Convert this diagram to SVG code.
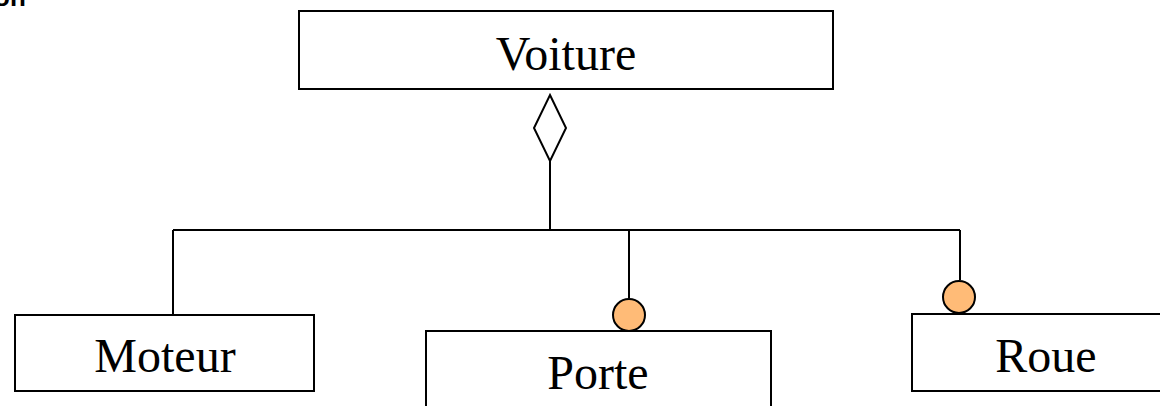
<svg xmlns="http://www.w3.org/2000/svg" width="1160" height="406" viewBox="0 0 1160 406">
  <style>
    .box { fill: #ffffff; stroke: #000000; stroke-width: 2; }
    .label { font-family: "Liberation Serif", "Times New Roman", serif; font-size: 48px; fill: #000000; text-anchor: middle; }
    .wire { fill: none; stroke: #000000; stroke-width: 2; }
    .dot { fill: #FFBB77; stroke: #000000; stroke-width: 2; }
    .diamond { fill: #ffffff; stroke: #000000; stroke-width: 2; }
  </style>

  <!-- title fragment at the top edge -->
  <text x="-6" y="6" font-family="Liberation Sans, Arial, sans-serif" font-size="26" font-weight="bold" fill="#000000">on</text>

  <!-- connectors -->
  <g id="connectors">
    <polygon class="diamond" points="550,95 566,128 550,161 534,128"/>
    <path class="wire" d="M550,161 V230"/>
    <path class="wire" d="M173,230 H960"/>
    <path class="wire" d="M173,230 V315"/>
    <path class="wire" d="M629,230 V298"/>
    <path class="wire" d="M960,230 V280"/>
    <circle class="dot" cx="629" cy="315" r="16"/>
    <circle class="dot" cx="959" cy="297" r="16"/>
  </g>

  <g id="voiture">
    <rect class="box" x="299" y="11" width="534" height="78"/>
    <text class="label" x="566" y="70">Voiture</text>
  </g>

  <g id="moteur">
    <rect class="box" x="15" y="315" width="299" height="76"/>
    <text class="label" x="165" y="372">Moteur</text>
  </g>

  <g id="porte">
    <rect class="box" x="426" y="331" width="345" height="90"/>
    <text class="label" x="598" y="389">Porte</text>
  </g>

  <g id="roue">
    <rect class="box" x="912" y="314" width="260" height="77"/>
    <text class="label" x="1046" y="372">Roue</text>
  </g>
</svg>
